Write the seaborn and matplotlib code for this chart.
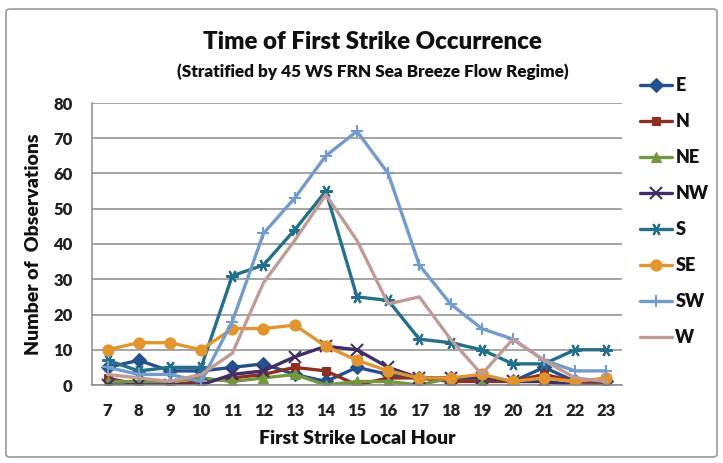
import matplotlib
matplotlib.use("Agg")
import matplotlib.pyplot as plt
import matplotlib.patches as mpatches
import seaborn as sns

# ----------------------------
# Data
# ----------------------------
hours = list(range(7, 24))
series_names = ["E", "N", "NE", "NW", "S", "SE", "SW", "W"]

E = [5, 7, 4, 4, 5, 6, 3, 1, 5, 3, 2, 2, 2, 1, 5, 1, 1]
N = [2, 0, 0, 1, 2, 3, 5, 4, 0, 2, 2, 1, 1, 1, 3, 1, 1]
NE = [1, 1, 1, 2, 1, 2, 3, 0, 1, 1, 0, 2, 2, 1, 1, 0, 0]
NW = [0, 0, 0, 0, 3, 4, 8, 11, 10, 5, 2, 2, 2, 1, 1, 0, 0]
S = [7, 4, 5, 5, 31, 34, 44, 55, 25, 24, 13, 12, 10, 6, 6, 10, 10]
SE = [10, 12, 12, 10, 16, 16, 17, 11, 7, 4, 2, 2, 3, 1, 2, 1, 2]
SW = [5, 3, 3, 1, 18, 43, 53, 65, 72, 60, 34, 23, 16, 13, 7, 4, 4]
W = [3, 2, 1, 3, 9, 29, 41, 54, 41, 23, 25, 13, 3, 13, 7, 2, 1]

y_ticks = [0, 10, 20, 30, 40, 50, 60, 70, 80]

series_values = [E, N, NE, NW, S, SE, SW, W]
colors = ["#23508F", "#8E2F22", "#74973F", "#3F2F66",
          "#24708A", "#E2952F", "#739BCB", "#C09C96"]
markers = ["D", "s", "^", "x", (6, 2, 90), "o", "+", None]
msizes = [7, 6, 7, 8, 9, 8, 9, 0]

sns.set_theme(style="white")
plt.rcParams["font.family"] = ["Lato", "DejaVu Sans"]
WT = "heavy"

fig = plt.figure(figsize=(7.23, 4.63), dpi=100)
ax = fig.add_axes([92 / 723, 1 - 385 / 463, 530 / 723, 282 / 463])

for name, vals, c, m, ms in zip(series_names, series_values, colors, markers, msizes):
    sns.lineplot(x=hours, y=vals, ax=ax, color=c, marker=m, markersize=ms,
                 markeredgecolor=c, markeredgewidth=1.5 if m in ("x", "+", (6, 2, 90)) else 0.8,
                 linewidth=2.4, label=name, legend=False)

# axes styling
ax.set_xlim(6.58, 23.4)
ax.set_ylim(0, 80)
ax.set_yticks(y_ticks)
ax.set_xticks(hours)
ax.set_xticks([h + 0.5 for h in range(6, 24)], minor=True)
ax.yaxis.grid(True, color="#8C8C8C", linewidth=1.1)
ax.xaxis.grid(False)
for side in ["top", "right"]:
    ax.spines[side].set_visible(False)
for side in ["left", "bottom"]:
    ax.spines[side].set_color("#8C8C8C")
    ax.spines[side].set_linewidth(1.1)
ax.set_axisbelow(True)

ax.tick_params(axis="x", which="major", length=0, pad=13, labelsize=12)
ax.tick_params(axis="x", which="minor", length=4, width=1, color="#8C8C8C", direction="out")
ax.tick_params(axis="y", which="major", length=4, width=1, color="#8C8C8C",
               direction="out", pad=10, labelsize=12)
for lbl in ax.get_xticklabels() + ax.get_yticklabels():
    lbl.set_fontweight(WT)
    lbl.set_color("#222222")

ax.set_xlabel("First Strike Local Hour", fontsize=14, fontweight=WT,
              color="#111111", labelpad=8)
ax.set_ylabel("Number of  Observations", fontsize=14, fontweight=WT,
              color="#111111", labelpad=8)

fig.text(372 / 723, 1 - 42 / 463, "Time of First Strike Occurrence",
         ha="center", va="center", fontsize=17.3, fontweight=WT, color="#111111")
fig.text(373 / 723, 1 - 72 / 463, "(Stratified by 45 WS FRN Sea Breeze Flow Regime)",
         ha="center", va="center", fontsize=12.3, fontweight=WT, color="#111111")

handles, labels = ax.get_legend_handles_labels()
leg = fig.legend(handles, labels, loc="upper left", bbox_to_anchor=(633 / 723, 1 - 70 / 463),
                 frameon=False, labelspacing=1.05, handlelength=1.75,
                 handletextpad=0.2, borderaxespad=0, labelcolor="#111111",
                 prop={"weight": WT, "size": 13})

# outer chart border
fig.patches.append(mpatches.FancyBboxPatch(
    (6 / 723, 6 / 463), 711 / 723, 448 / 463, boxstyle="round,pad=0,rounding_size=0.006",
    transform=fig.transFigure, fill=False, edgecolor="#9A9A9A", linewidth=1.2))

fig.savefig("out.png", dpi=100, facecolor="white")
plt.close(fig)
